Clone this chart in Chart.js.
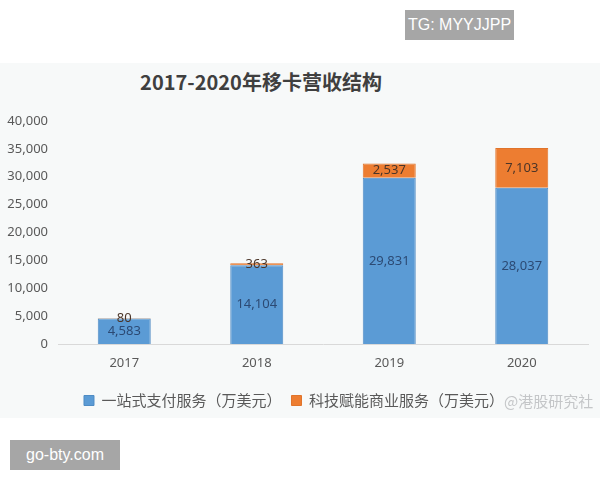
<!DOCTYPE html>
<html>
<head>
<meta charset="utf-8">
<script src="https://cdn.jsdelivr.net/npm/chart.js@4/dist/chart.umd.min.js"></script>
<style>
  html, body { margin: 0; padding: 0; background: #fff; }
  #wrap { position: relative; width: 600px; height: 480px; overflow: hidden; }
  #band { position: absolute; left: 0; top: 63px; width: 600px; height: 355px; background: #f7f9f9; }
  #title { position: absolute; left: 61px; width: 400px; top: 67px; text-align: center;
           font: bold 20px "Noto Sans CJK SC", sans-serif; color: #3f3f3f; }
  canvas { position: absolute; left: 0; top: 0; }
  .tag { position: absolute; background: #a6a6a6; color: #fff; font: 16px "Liberation Sans", Arial, sans-serif;
         line-height: 30px; text-align: center; white-space: nowrap; }
  #mark { position: absolute; left: 504px; top: 390px; font: 15px "Noto Sans CJK SC", sans-serif; color: #c4c6c8; }
</style>
</head>
<body>
<div id="wrap">
  <div id="band"></div>
  <div id="title">2017-2020年移卡营收结构</div>
  <canvas id="chart" width="600" height="480"></canvas>
  <div id="mark">@港股研究社</div>
  <div class="tag" style="left:405px;top:10px;width:109px;height:30px;">TG: MYYJJPP</div>
  <div class="tag" style="left:10px;top:440px;width:110px;height:30px;">go-bty.com</div>
</div>
<script>
// 2017-2020 revenue structure (unit: 10k USD)
const years = ['2017', '2018', '2019', '2020'];
const paymentRevenue = [4583, 14104, 29831, 28037];
const techRevenue = [80, 363, 2537, 7103];
const yTicks = [0, 5000, 10000, 15000, 20000, 25000, 30000, 35000, 40000];

const fmt = v => v.toLocaleString('en-US');

// draws the value in the middle of each bar segment
const barLabels = {
  id: 'barLabels',
  afterDatasetsDraw(chart) {
    const ctx = chart.ctx;
    ctx.save();
    ctx.font = '13px "Noto Sans", sans-serif';
    ctx.textAlign = 'center';
    ctx.textBaseline = 'middle';
    chart.data.datasets.forEach((ds, i) => {
      const meta = chart.getDatasetMeta(i);
      meta.data.forEach((bar, j) => {
        const p = bar.getProps(['x', 'y', 'base'], true);
        ctx.fillStyle = ds.labelColor;
        ctx.fillText(fmt(ds.data[j]), p.x, (p.y + p.base) / 2);
      });
    });
    ctx.restore();
  }
};

const ctx = document.getElementById('chart').getContext('2d');
new Chart(ctx, {
  type: 'bar',
  data: {
    labels: years,
    datasets: [
      {
        label: '一站式支付服务（万美元）',
        data: paymentRevenue,
        backgroundColor: '#5b9bd5',
        borderColor: '#4f8cc4',
        borderWidth: 1,
        labelColor: '#2c4a74'
      },
      {
        label: '科技赋能商业服务（万美元）',
        data: techRevenue,
        backgroundColor: '#ed7d31',
        borderColor: '#e0742b',
        borderWidth: 1,
        labelColor: '#4b3528'
      }
    ]
  },
  options: {
    responsive: false,
    animation: false,
    layout: { padding: { top: 121, left: 0, right: 12, bottom: 62 } },
    datasets: { bar: { categoryPercentage: 1, barPercentage: 0.4 } },
    scales: {
      x: {
        stacked: true,
        grid: { display: false, drawTicks: false },
        border: { color: '#d9d9d9', width: 1 },
        ticks: { color: '#595959', font: { family: '"Noto Sans", sans-serif', size: 13 }, padding: 11 },
        afterFit(s) { s.height = 39; }
      },
      y: {
        stacked: true,
        min: 0,
        max: 40000,
        afterBuildTicks(s) { s.ticks = yTicks.map(v => ({ value: v })); },
        grid: { display: false, drawTicks: false },
        border: { display: false },
        ticks: {
          color: '#595959',
          font: { family: '"Noto Sans", sans-serif', size: 13 },
          padding: 10,
          callback: v => fmt(v)
        },
        afterFit(s) { s.width = 58; }
      }
    },
    plugins: {
      legend: {
        position: 'bottom',
        labels: {
          color: '#595959',
          font: { family: '"Noto Sans CJK SC", sans-serif', size: 15 },
          boxWidth: 10,
          boxHeight: 10,
          padding: 10
        }
      },
      title: { display: false },
      tooltip: { enabled: false }
    }
  },
  plugins: [barLabels]
});
</script>
</body>
</html>
